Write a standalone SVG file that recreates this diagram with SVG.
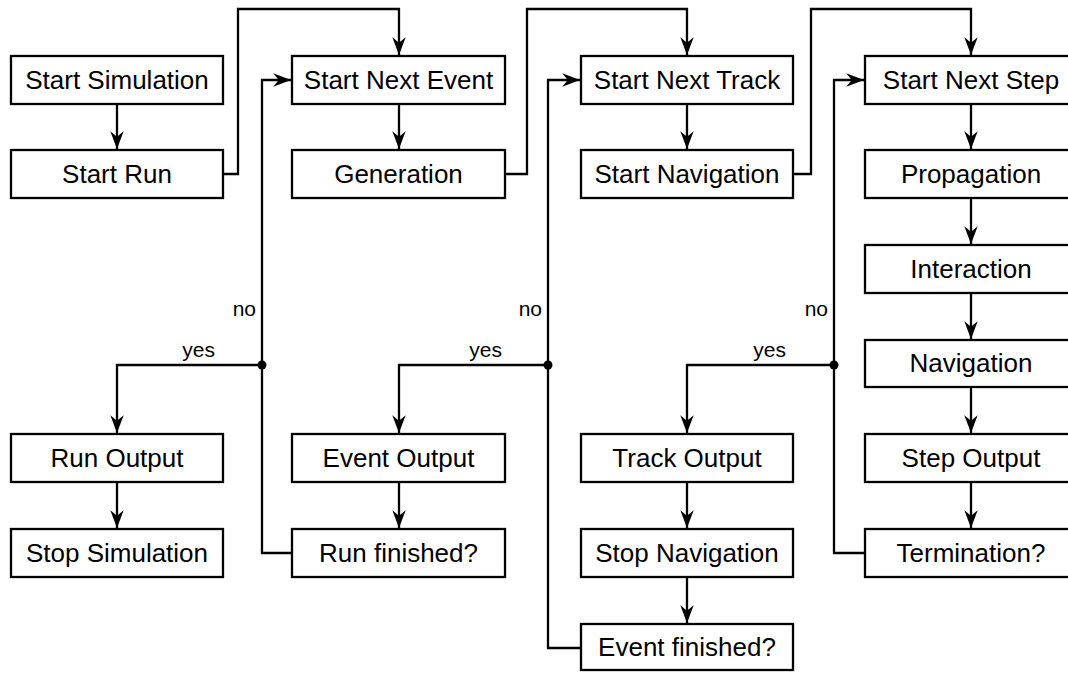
<svg xmlns="http://www.w3.org/2000/svg" width="1068" height="673" viewBox="0 0 1068 673">
<style>
.box{fill:#fff;stroke:#000;stroke-width:2.3}
.t{font-family:"Liberation Sans",Arial,sans-serif;font-size:26px;text-anchor:middle;fill:#000}
.lbl{font-family:"Liberation Sans",Arial,sans-serif;font-size:21px;text-anchor:end;fill:#000}
.c{fill:none;stroke:#000;stroke-width:2.3;marker-end:url(#ah)}
</style>
<defs>
<marker id="ah" markerUnits="userSpaceOnUse" markerWidth="20" markerHeight="16" viewBox="-17 -7 18 14" refX="0" refY="0" orient="auto">
<path d="M0,0 L-16,-6 L-11,0 L-16,6 Z" fill="#000"/>
</marker>
</defs>
<rect width="1068" height="673" fill="#fff"/>
<g id="connectors">
<path class="c" d="M117,104 V149"/>
<path class="c" d="M223,174 H238 V9 H399 V55"/>
<path class="c" d="M399,104 V149"/>
<path class="c" d="M505,174 H527 V9 H687 V55"/>
<path class="c" d="M687,104 V149"/>
<path class="c" d="M793,174 H811 V9 H971 V55"/>
<path class="c" d="M971,104 V149"/>
<path class="c" d="M971,198 V244"/>
<path class="c" d="M971,293 V339"/>
<path class="c" d="M971,387 V433"/>
<path class="c" d="M971,482 V528"/>
<path class="c" d="M865,553 H834 V80 H864"/>
<path class="c" d="M834,365 H687 V433"/>
<path class="c" d="M687,482 V528"/>
<path class="c" d="M687,577 V623"/>
<path class="c" d="M581,648 H548 V80 H580"/>
<path class="c" d="M548,365 H399 V433"/>
<path class="c" d="M399,482 V528"/>
<path class="c" d="M292,553 H262 V80 H291"/>
<path class="c" d="M262,365 H117 V433"/>
<path class="c" d="M117,482 V528"/>
<circle cx="262" cy="365" r="4.5"/>
<circle cx="548" cy="365" r="4.5"/>
<circle cx="834" cy="365" r="4.5"/>
<text class="lbl" x="256" y="316">no</text>
<text class="lbl" x="542" y="316">no</text>
<text class="lbl" x="828" y="316">no</text>
<text class="lbl" x="215" y="357">yes</text>
<text class="lbl" x="502" y="357">yes</text>
<text class="lbl" x="786" y="357">yes</text>
</g>
<g id="start-simulation"><rect class="box" x="11" y="56" width="212" height="48"/><text class="t" x="117" y="89">Start Simulation</text></g>
<g id="start-run"><rect class="box" x="11" y="150" width="212" height="48"/><text class="t" x="117" y="183">Start Run</text></g>
<g id="run-output"><rect class="box" x="11" y="434" width="212" height="48"/><text class="t" x="117" y="467">Run Output</text></g>
<g id="stop-simulation"><rect class="box" x="11" y="529" width="212" height="48"/><text class="t" x="117" y="562">Stop Simulation</text></g>
<g id="start-next-event"><rect class="box" x="292" y="56" width="213" height="48"/><text class="t" x="398.5" y="89">Start Next Event</text></g>
<g id="generation"><rect class="box" x="292" y="150" width="213" height="48"/><text class="t" x="398.5" y="183">Generation</text></g>
<g id="event-output"><rect class="box" x="292" y="434" width="213" height="48"/><text class="t" x="398.5" y="467">Event Output</text></g>
<g id="run-finished"><rect class="box" x="292" y="529" width="213" height="48"/><text class="t" x="398.5" y="562">Run finished?</text></g>
<g id="start-next-track"><rect class="box" x="581" y="56" width="212" height="48"/><text class="t" x="687" y="89">Start Next Track</text></g>
<g id="start-navigation"><rect class="box" x="581" y="150" width="212" height="48"/><text class="t" x="687" y="183">Start Navigation</text></g>
<g id="track-output"><rect class="box" x="581" y="434" width="212" height="48"/><text class="t" x="687" y="467">Track Output</text></g>
<g id="stop-navigation"><rect class="box" x="581" y="529" width="212" height="48"/><text class="t" x="687" y="562">Stop Navigation</text></g>
<g id="event-finished"><rect class="box" x="581" y="624" width="212" height="46"/><text class="t" x="687" y="656">Event finished?</text></g>
<g id="start-next-step"><rect class="box" x="865" y="56" width="212" height="48"/><text class="t" x="971" y="89">Start Next Step</text></g>
<g id="propagation"><rect class="box" x="865" y="150" width="212" height="48"/><text class="t" x="971" y="183">Propagation</text></g>
<g id="interaction"><rect class="box" x="865" y="245" width="212" height="48"/><text class="t" x="971" y="278">Interaction</text></g>
<g id="navigation"><rect class="box" x="865" y="340" width="212" height="47"/><text class="t" x="971" y="372">Navigation</text></g>
<g id="step-output"><rect class="box" x="865" y="434" width="212" height="48"/><text class="t" x="971" y="467">Step Output</text></g>
<g id="termination"><rect class="box" x="865" y="529" width="212" height="48"/><text class="t" x="971" y="562">Termination?</text></g>
</svg>
